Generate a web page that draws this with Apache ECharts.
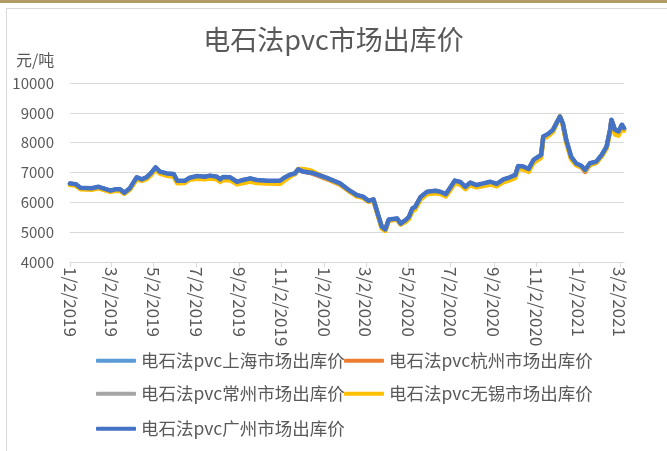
<!DOCTYPE html>
<html>
<head>
<meta charset="utf-8">
<title>电石法pvc市场出库价</title>
<script src="https://cdn.jsdelivr.net/npm/echarts@6/dist/echarts.min.js"></script>
<style>
  html, body { margin: 0; padding: 0; background: #fff; overflow: hidden; }
  #topBar { position: absolute; left: 0; top: 0; width: 667px; height: 3px; background: #b19b67; }
  #frame { position: absolute; left: 6px; top: 8px; width: 700px; height: 500px;
           border-left: 1px solid #d9d9d9; border-top: 1px solid #d9d9d9; }
  #chart { position: absolute; left: 0; top: 0; width: 667px; height: 451px; }
</style>
</head>
<body>
<div id="topBar"></div>
<div id="frame"></div>
<div id="chart"></div>
<script>
// 日期
const dates = [
  '2019-01-02', '2019-01-10', '2019-01-17', '2019-02-02', '2019-02-12', '2019-02-19', '2019-03-01',
  '2019-03-08', '2019-03-15', '2019-03-21', '2019-03-29', '2019-04-03', '2019-04-08', '2019-04-15',
  '2019-04-22', '2019-04-28', '2019-05-05', '2019-05-11', '2019-05-21', '2019-05-31', '2019-06-05',
  '2019-06-16', '2019-06-23', '2019-07-03', '2019-07-15', '2019-07-22', '2019-08-01', '2019-08-06',
  '2019-08-10', '2019-08-20', '2019-08-30', '2019-09-08', '2019-09-18', '2019-09-27', '2019-10-12',
  '2019-10-31', '2019-11-07', '2019-11-14', '2019-11-21', '2019-11-26', '2019-12-03', '2019-12-15',
  '2019-12-25', '2020-01-06', '2020-01-11', '2020-01-25', '2020-02-08', '2020-02-18', '2020-02-27',
  '2020-03-06', '2020-03-13', '2020-03-19', '2020-03-25', '2020-03-30', '2020-04-04', '2020-04-16',
  '2020-04-21', '2020-04-28', '2020-05-03', '2020-05-08', '2020-05-12', '2020-05-20', '2020-05-29',
  '2020-06-10', '2020-06-17', '2020-06-25', '2020-07-01', '2020-07-08', '2020-07-16', '2020-07-23',
  '2020-07-30', '2020-08-08', '2020-08-18', '2020-08-28', '2020-09-06', '2020-09-16', '2020-09-25',
  '2020-10-03', '2020-10-07', '2020-10-14', '2020-10-22', '2020-10-29', '2020-11-05', '2020-11-09',
  '2020-11-12', '2020-11-19', '2020-11-26', '2020-12-01', '2020-12-06', '2020-12-10', '2020-12-15',
  '2020-12-22', '2020-12-29', '2021-01-06', '2021-01-11', '2021-01-18', '2021-01-27', '2021-02-04',
  '2021-02-11', '2021-02-16', '2021-02-18', '2021-02-23', '2021-02-28', '2021-03-05', '2021-03-08'
]

// 上海
const shanghai = [
  6620, 6600, 6480, 6460, 6510, 6460, 6380, 6430, 6420, 6310, 6460, 6650, 6830, 6760,
  6830, 6960, 7160, 7020, 6960, 6940, 6710, 6710, 6810, 6870, 6850, 6880, 6850, 6760,
  6840, 6830, 6680, 6740, 6790, 6740, 6710, 6710, 6830, 6910, 6960, 7100, 7040, 6990,
  6910, 6810, 6760, 6620, 6380, 6230, 6180, 6040, 6090, 5620, 5170, 5080, 5410, 5450,
  5280, 5390, 5500, 5780, 5840, 6180, 6340, 6380, 6340, 6260, 6470, 6720, 6670, 6510,
  6650, 6570, 6620, 6680, 6600, 6760, 6830, 6910, 7210, 7190, 7110, 7410, 7520, 7590,
  8190, 8280, 8420, 8650, 8870, 8640, 8080, 7520, 7300, 7210, 7070, 7300, 7350, 7580,
  7860, 8420, 8750, 8420, 8360, 8590, 8470
]
// 杭州
const hangzhou = [
  6610, 6590, 6470, 6450, 6500, 6450, 6370, 6420, 6410, 6300, 6450, 6640, 6820, 6750,
  6820, 6950, 7150, 7010, 6950, 6930, 6700, 6700, 6800, 6860, 6840, 6870, 6840, 6750,
  6830, 6820, 6670, 6730, 6780, 6730, 6700, 6700, 6820, 6900, 6950, 7090, 7030, 6970,
  6890, 6780, 6730, 6590, 6360, 6210, 6160, 6030, 6080, 5610, 5160, 5070, 5400, 5440,
  5270, 5380, 5490, 5770, 5830, 6170, 6330, 6370, 6330, 6250, 6460, 6710, 6660, 6500,
  6640, 6560, 6610, 6670, 6590, 6750, 6820, 6900, 7200, 7180, 7100, 7400, 7510, 7580,
  8180, 8270, 8410, 8640, 8860, 8620, 8050, 7480, 7260, 7170, 7020, 7260, 7320, 7560,
  7840, 8400, 8740, 8400, 8340, 8570, 8460
]
// 常州
const changzhou = [
  6620, 6600, 6480, 6460, 6510, 6460, 6380, 6420, 6420, 6310, 6460, 6650, 6830, 6760,
  6830, 6960, 7160, 7020, 6960, 6940, 6710, 6710, 6810, 6870, 6850, 6880, 6850, 6760,
  6840, 6830, 6680, 6740, 6790, 6740, 6710, 6710, 6830, 6910, 6960, 7100, 7030, 6990,
  6910, 6800, 6760, 6620, 6380, 6230, 6180, 6040, 6090, 5620, 5170, 5080, 5410, 5450,
  5280, 5390, 5500, 5780, 5840, 6180, 6340, 6380, 6340, 6260, 6470, 6720, 6670, 6510,
  6650, 6570, 6620, 6680, 6600, 6760, 6830, 6910, 7210, 7190, 7110, 7410, 7520, 7590,
  8190, 8280, 8420, 8650, 8870, 8640, 8080, 7510, 7290, 7200, 7060, 7290, 7350, 7580,
  7860, 8420, 8750, 8420, 8360, 8590, 8470
]
// 无锡
const wuxi = [
  6580, 6560, 6440, 6420, 6470, 6420, 6350, 6390, 6380, 6290, 6420, 6600, 6760, 6720,
  6780, 6900, 7100, 6960, 6890, 6860, 6640, 6650, 6760, 6790, 6770, 6800, 6770, 6680,
  6750, 6740, 6600, 6650, 6700, 6650, 6630, 6620, 6740, 6850, 6960, 7120, 7120, 7060,
  6940, 6800, 6740, 6600, 6360, 6200, 6150, 6020, 6060, 5580, 5120, 5040, 5380, 5420,
  5260, 5340, 5440, 5700, 5760, 6100, 6270, 6300, 6280, 6200, 6390, 6640, 6590, 6440,
  6580, 6500, 6550, 6600, 6540, 6680, 6740, 6820, 7120, 7100, 7020, 7320, 7430, 7500,
  8120, 8220, 8360, 8620, 8880, 8600, 8000, 7440, 7250, 7180, 7060, 7260, 7330, 7540,
  7800, 8350, 8700, 8280, 8230, 8450, 8400
]
// 广州
const guangzhou = [
  6630, 6610, 6490, 6470, 6520, 6470, 6390, 6435, 6435, 6320, 6470, 6660, 6840, 6770,
  6840, 6970, 7175, 7030, 6970, 6950, 6725, 6720, 6825, 6880, 6860, 6895, 6860, 6770,
  6850, 6840, 6690, 6750, 6805, 6750, 6725, 6725, 6840, 6925, 6970, 7110, 7030, 6995,
  6920, 6820, 6770, 6635, 6390, 6245, 6190, 6050, 6100, 5630, 5180, 5090, 5425, 5460,
  5290, 5400, 5515, 5795, 5850, 6190, 6355, 6390, 6355, 6275, 6480, 6730, 6680, 6520,
  6660, 6580, 6635, 6690, 6615, 6770, 6840, 6920, 7220, 7200, 7120, 7420, 7530, 7600,
  8205, 8295, 8430, 8655, 8875, 8655, 8095, 7530, 7310, 7220, 7085, 7310, 7365, 7590,
  7870, 8430, 8765, 8430, 8375, 8600, 8485
]

// 坐标轴刻度
const tickDates = [
  '2019-01-02', '2019-03-02', '2019-05-02', '2019-07-02', '2019-09-02', '2019-11-02', '2020-01-02',
  '2020-03-02', '2020-05-02', '2020-07-02', '2020-09-02', '2020-11-02', '2021-01-02', '2021-03-02'
]
const xMin = '2019-01-02'
const xMax = '2021-03-08'
const yTicks = [4000, 5000, 6000, 7000, 8000, 9000, 10000]

const seriesNames = [
  '电石法pvc上海市场出库价',
  '电石法pvc杭州市场出库价',
  '电石法pvc常州市场出库价',
  '电石法pvc无锡市场出库价',
  '电石法pvc广州市场出库价'
]
const seriesValues = [shanghai, hangzhou, changzhou, wuxi, guangzhou]
const colors = ['#5b9bd5', '#ed7d31', '#a5a5a5', '#ffc000', '#4472c4']

const FONT = '"Noto Sans CJK SC", "Noto Sans", sans-serif'

// 日期 -> 天数（距 xMin）
const DAY = 24 * 3600 * 1000
const toDay = (s) => {
  const [y, m, d] = s.split('-').map(Number)
  return Math.round((Date.UTC(y, m - 1, d) - Date.UTC(2019, 0, 2)) / DAY)
}
const fmtDay = (v) => {
  const d = new Date(Date.UTC(2019, 0, 2) + v * DAY)
  return (d.getUTCMonth() + 1) + '/' + d.getUTCDate() + '/' + d.getUTCFullYear()
}

// 图例位置（两列三行）
const legendPos = [
  { left: 96, top: 352 },
  { left: 344, top: 352 },
  { left: 96, top: 385 },
  { left: 344, top: 385 },
  { left: 96, top: 420 }
]

const chart = echarts.init(document.getElementById('chart'), null, { renderer: 'canvas' })

const option = {
  animation: false,
  textStyle: { fontFamily: FONT },
  title: [
    {
      text: '电石法pvc市场出库价',
      left: 'center',
      top: 21,
      textStyle: { fontSize: 27, fontWeight: 'normal', color: '#595959', fontFamily: FONT }
    },
    {
      text: '元/吨',
      left: 11,
      top: 47,
      textStyle: { fontSize: 16, fontWeight: 'normal', color: '#595959', fontFamily: FONT }
    }
  ],
  legend: seriesNames.map((name, i) => ({
    data: [name],
    left: legendPos[i].left,
    top: legendPos[i].top,
    padding: 0,
    icon: 'roundRect',
    itemWidth: 40,
    itemHeight: 4,
    selectedMode: false,
    textStyle: { fontSize: 17.5, color: '#595959', fontFamily: FONT }
  })),
  grid: { left: 70, right: 43, top: 83, bottom: 189, containLabel: false },
  xAxis: {
    type: 'value',
    min: toDay(xMin),
    max: toDay(xMax),
    axisLine: { lineStyle: { color: '#d9d9d9', width: 1 } },
    axisTick: {
      show: true,
      length: 5,
      lineStyle: { color: '#d9d9d9' },
      customValues: tickDates.map(toDay)
    },
    axisLabel: {
      customValues: tickDates.map(toDay),
      rotate: -90,
      margin: 5,
      fontSize: 17,
      color: '#595959',
      fontFamily: FONT,
      formatter: (v) => fmtDay(v)
    },
    splitLine: { show: false }
  },
  yAxis: {
    type: 'value',
    min: yTicks[0],
    max: yTicks[yTicks.length - 1],
    interval: 1000,
    axisLine: { show: false },
    axisTick: { show: false },
    axisLabel: {
      fontSize: 15,
      color: '#595959',
      margin: 16,
      fontFamily: FONT,
      formatter: (v) => String(v)
    },
    splitLine: { lineStyle: { color: '#d9d9d9', width: 1 } }
  },
  series: seriesNames.map((name, i) => ({
    name,
    type: 'line',
    data: dates.map((d, j) => [toDay(d), seriesValues[i][j]]),
    showSymbol: false,
    symbol: 'none',
    color: colors[i],
    lineStyle: { width: 4.5, color: colors[i], cap: 'round', join: 'round' },
    z: 2 + i
  }))
}

chart.setOption(option)
</script>
</body>
</html>
